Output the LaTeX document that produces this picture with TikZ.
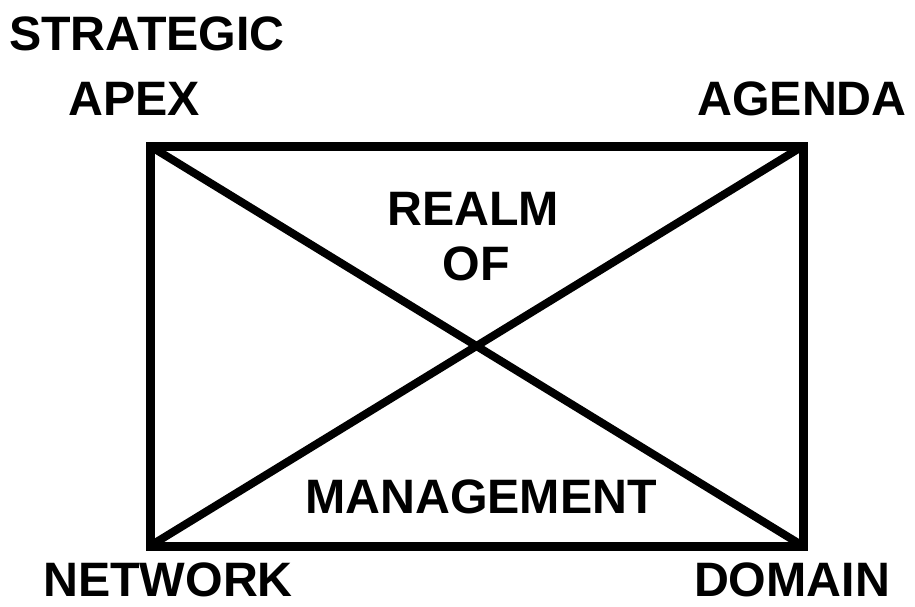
\documentclass[tikz,border=0pt]{standalone}
\usepackage{fontspec}
\setmainfont{Liberation Sans}
\tikzset{lbl/.style={anchor=base,inner sep=0pt,font=\fontsize{27.5}{30}\selectfont\bfseries}}
\begin{document}
\begin{tikzpicture}[x=0.02cm,y=-0.02cm]
	\useasboundingbox (0,0) rectangle (915,606);
	\coordinate (NW) at (150,146);
	\coordinate (NE) at (803,146);
	\coordinate (SW) at (150,546);
	\coordinate (SE) at (803,546);
	
	\node[lbl] (strategic) at (147,50) {STRATEGIC};
	\node[lbl] (apex) at (134,115) {APEX};
	\node[lbl] (agenda) at (802,115) {AGENDA};
	\node[lbl] (realm) at (473,225) {REALM};
	\node[lbl] (of) at (476,280) {OF};
	\node[lbl] (management) at (481,513) {MANAGEMENT};
	\node[lbl] (network) at (168,596) {NETWORK};
	\node[lbl] (domain) at (792,596) {DOMAIN};
	
	\draw[line width=9*0.02cm] (NW) rectangle (SE);
	\draw[line width=8*0.02cm] (NW) -- (SE);
	\draw[line width=8*0.02cm] (SW) -- (NE);
\end{tikzpicture}
\end{document}
